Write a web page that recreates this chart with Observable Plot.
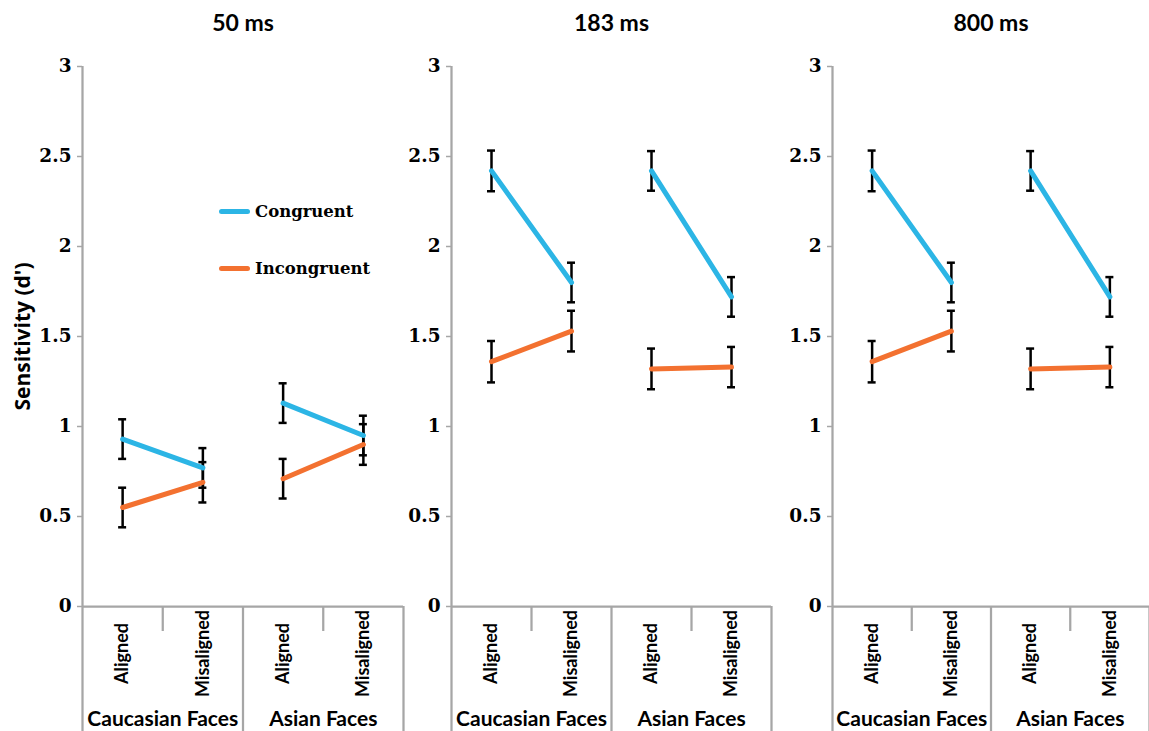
<!DOCTYPE html>
<html>
<head>
<meta charset="utf-8">
<script src="https://cdn.jsdelivr.net/npm/d3@7"></script>
<script src="https://cdn.jsdelivr.net/npm/@observablehq/plot@0.6"></script>
<style>
  html, body { margin: 0; padding: 0; background: #fff; overflow: hidden; }
  #chart { position: relative; width: 1149px; height: 731px; }
  #chart svg { position: absolute; top: 0; overflow: visible; }
  .legend-row { position: absolute; left: 219px; height: 24px; display: flex; align-items: center;
    font-family: "DejaVu Serif", serif; font-weight: bold; font-size: 16.5px; color: #000; }
  .legend-row .swatch { width: 31px; height: 5px; border-radius: 3px; margin-right: 5px; }
</style>
</head>
<body>
<div id="chart"></div>
<script>
// Exposure durations (one panel each)
const durations = ["50 ms", "183 ms", "800 ms"];
const faceGroups = ["Caucasian Faces", "Asian Faces"];
const alignments = ["Aligned", "Misaligned"];
const conditions = ["Congruent", "Incongruent"];
const yTicks = [0, 0.5, 1, 1.5, 2, 2.5, 3];

// Mean sensitivity (d') per duration, ordered:
// Caucasian-Aligned, Caucasian-Misaligned, Asian-Aligned, Asian-Misaligned
const congruentMean = [
  [0.93, 0.77, 1.13, 0.95],
  [2.42, 1.80, 2.42, 1.72],
  [2.42, 1.80, 2.42, 1.72]
];
const congruentSE = [
  [0.11, 0.11, 0.11, 0.11],
  [0.113, 0.11, 0.11, 0.11],
  [0.113, 0.11, 0.11, 0.11]
];
const incongruentMean = [
  [0.55, 0.69, 0.71, 0.90],
  [1.36, 1.53, 1.32, 1.33],
  [1.36, 1.53, 1.32, 1.33]
];
const incongruentSE = [
  [0.11, 0.112, 0.11, 0.113],
  [0.115, 0.113, 0.113, 0.112],
  [0.115, 0.113, 0.113, 0.112]
];

const colors = ["#2cb5e5", "#f37130"];
const axisGray = "#a6a6a6";
const sans = "Lato, 'Open Sans', sans-serif";
const serif = "'DejaVu Serif', serif";

// Long-format rows; pos is the centre of each category band on a 0..4 axis
const rows = [];
durations.forEach((duration, d) => {
  conditions.forEach((condition, c) => {
    const means = c === 0 ? congruentMean[d] : incongruentMean[d];
    const ses = c === 0 ? congruentSE[d] : incongruentSE[d];
    faceGroups.forEach((group, g) => {
      alignments.forEach((alignment, a) => {
        const k = g * alignments.length + a;
        rows.push({duration, condition, group, alignment, pos: k + 0.5, value: means[k], se: ses[k]});
      });
    });
  });
});

const categories = faceGroups.flatMap((group, g) =>
  alignments.map((alignment, a) => ({label: alignment, pos: g * alignments.length + a + 0.5})));
const groupLabels = faceGroups.map((group, g) => ({label: group, pos: g * alignments.length + alignments.length / 2}));
const nCats = faceGroups.length * alignments.length;
const boundaries = d3.range(0, nCats + 1);
const groupBoundaries = boundaries.filter((b) => b % alignments.length === 0);
const innerBoundaries = boundaries.filter((b) => b % alignments.length !== 0);

// Panel placement: svg left offset, left margin, plot-area width
const panels = [
  {left: 0, marginLeft: 82, inner: 321, marginRight: 2},
  {left: 405, marginLeft: 46, inner: 320, marginRight: 2},
  {left: 773, marginLeft: 59, inner: 317, marginRight: 1}
];
const H = 731, marginTop = 66, marginBottom = 125;

function panel(duration, i) {
  const p = panels[i];
  const data = rows.filter((r) => r.duration === duration);
  const marks = [
    // axis frame: y-axis line, outer/group dividers down to the bottom edge
    Plot.ruleX([0], {y1: 3, y2: 0, stroke: axisGray, strokeWidth: 2.25}),
    Plot.ruleX(groupBoundaries, {y1: 0, y2: 0, insetBottom: -marginBottom, stroke: axisGray, strokeWidth: 2.25}),
    Plot.ruleX(innerBoundaries, {y1: 0, y2: 0, insetBottom: -25, stroke: axisGray, strokeWidth: 2.25}),
    Plot.ruleY([0], {x1: 0, x2: nCats, stroke: axisGray, strokeWidth: 2.25}),
    Plot.ruleY(yTicks, {x1: 0, x2: 0, insetLeft: -5, stroke: axisGray, strokeWidth: 1.5}),
    Plot.text(yTicks, {x: 0, y: (d) => d, text: (d) => String(d), textAnchor: "end", dx: -11,
      fontFamily: serif, fontWeight: "bold", fontSize: 18.5, fill: "black"}),
    // category labels
    Plot.text(categories, {x: "pos", y: 0, text: "label", rotate: -90, dy: 47,
      fontFamily: sans, fontWeight: "bold", fontSize: 18, fill: "black"}),
    Plot.text(groupLabels, {x: "pos", y: 0, text: "label", dy: 113,
      fontFamily: sans, fontWeight: "bold", fontSize: 21, fill: "black"}),
    // panel title
    Plot.text([duration], {frameAnchor: "top", lineAnchor: "middle", textAnchor: "middle", dy: -43,
      fontFamily: sans, fontWeight: "bold", fontSize: 23, fill: "black"}),
    // error bars
    Plot.ruleX(data, {x: "pos", y1: (r) => r.value - r.se, y2: (r) => r.value + r.se, stroke: "black", strokeWidth: 2.5}),
    Plot.ruleY(data, {x1: "pos", x2: "pos", y: (r) => r.value + r.se, insetLeft: -4, insetRight: -4, stroke: "black", strokeWidth: 2.5}),
    Plot.ruleY(data, {x1: "pos", x2: "pos", y: (r) => r.value - r.se, insetLeft: -4, insetRight: -4, stroke: "black", strokeWidth: 2.5}),
    // condition lines within each face group
    Plot.line(data, {x: "pos", y: "value", z: (r) => r.condition + "|" + r.group, stroke: "condition",
      strokeWidth: 5, strokeLinecap: "round"})
  ];
  if (i === 0) {
    marks.push(Plot.text(["Sensitivity (d')"], {frameAnchor: "left", textAnchor: "middle", lineAnchor: "middle",
      rotate: -90, dx: -59, fontFamily: "'Open Sans', Lato, sans-serif", fontWeight: "bold", fontSize: 21, fill: "black"}));
  }
  const svg = Plot.plot({
    width: p.marginLeft + p.inner + p.marginRight,
    height: H,
    marginTop, marginBottom,
    marginLeft: p.marginLeft,
    marginRight: p.marginRight,
    x: {type: "linear", domain: [0, nCats], axis: null},
    y: {type: "linear", domain: [0, 3], axis: null},
    color: {domain: conditions, range: colors},
    style: {background: "none", overflow: "visible"},
    marks
  });
  svg.style.left = p.left + "px";
  return svg;
}

const chart = document.getElementById("chart");
durations.forEach((d, i) => chart.appendChild(panel(d, i)));

// legend inside the first panel
const legendTops = [199, 256];
conditions.forEach((c, i) => {
  const row = document.createElement("div");
  row.className = "legend-row";
  row.style.top = legendTops[i] + "px";
  const sw = document.createElement("span");
  sw.className = "swatch";
  sw.style.background = colors[i];
  const label = document.createElement("span");
  label.textContent = c;
  row.appendChild(sw);
  row.appendChild(label);
  chart.appendChild(row);
});
</script>
</body>
</html>
